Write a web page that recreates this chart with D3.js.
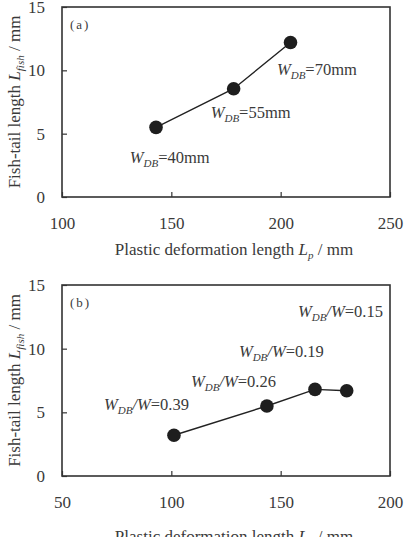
<!DOCTYPE html>
<html>
<head>
<meta charset="utf-8">
<script src="https://cdn.jsdelivr.net/npm/d3@7"></script>
<style>
  body { margin: 0; background: #fff; }
  text { font-family: "Liberation Serif", "Times New Roman", serif; fill: #3a3a3a; }
</style>
</head>
<body>
<script>
// panel (a) data
const lpA = [143, 178.5, 204.5];
const lfA = [5.5, 8.55, 12.2];
const labA = ["40mm", "55mm", "70mm"];
const labPosA = [[131, 2.7], [168, 6.2], [198.3, 9.6]];

// panel (b) data
const lpB = [101.2, 143.7, 165.7, 180.2];
const lfB = [3.2, 5.5, 6.8, 6.7];
const labB = ["0.39", "0.26", "0.19", "0.15"];
const labPosB = [[69.2, 5.2], [109, 7.0], [130.9, 9.35], [157.9, 12.5]];

const ticksA = [100, 150, 200, 250];
const ticksB = [50, 100, 150, 200];
const ticksY = [0, 5, 10, 15];

var W = 405, H = 537;
var svg = d3.select("body").append("svg").attr("width", W).attr("height", H);

function panel(top, bottom, xdom, xticks, xs, ys, labs, labPos, ratio, tag, xlOff) {
  var x = d3.scaleLinear().domain(xdom).range([62, 390]);
  var y = d3.scaleLinear().domain([0, 15]).range([bottom, top]);
  var g = svg.append("g");

  // frame
  g.append("rect").attr("x", 62).attr("y", top)
    .attr("width", 328).attr("height", bottom - top)
    .attr("fill", "none").attr("stroke", "#333").attr("stroke-width", 1.6);

  // axes, ticks pointing inside
  g.append("g").attr("transform", "translate(0," + bottom + ")")
    .call(d3.axisBottom(x).tickValues(xticks).tickSize(-5).tickPadding(20).tickFormat(d3.format("d")))
    .call(a => a.select(".domain").remove())
    .call(a => a.selectAll("line").attr("stroke", "#333").attr("stroke-width", 1.2))
    .call(a => a.selectAll("text").attr("font-size", 17).attr("fill", "#3a3a3a")
      .attr("font-family", "Liberation Serif"));
  g.append("g").attr("transform", "translate(62,0)")
    .call(d3.axisLeft(y).tickValues(ticksY).tickSize(-5).tickPadding(17))
    .call(a => a.select(".domain").remove())
    .call(a => a.selectAll("line").attr("stroke", "#333").attr("stroke-width", 1.2))
    .call(a => a.selectAll("text").attr("font-size", 17).attr("fill", "#3a3a3a")
      .attr("font-family", "Liberation Serif"));

  // line + markers
  var pts = xs.map((v, i) => [v, ys[i]]);
  g.append("path").datum(pts)
    .attr("d", d3.line().x(d => x(d[0])).y(d => y(d[1])))
    .attr("fill", "none").attr("stroke", "#222").attr("stroke-width", 1.4);
  g.selectAll("circle").data(pts).enter().append("circle")
    .attr("cx", d => x(d[0])).attr("cy", d => y(d[1])).attr("r", 6.8)
    .attr("fill", "#1e1e1e");

  // point labels
  labs.forEach(function(s, i) {
    var t = g.append("text").attr("x", x(labPos[i][0])).attr("y", y(labPos[i][1]))
      .attr("font-size", 16.5).attr("fill", "#4a4a4a");
    t.append("tspan").attr("font-style", "italic").text("W");
    t.append("tspan").attr("font-style", "italic").attr("font-size", 11).attr("dy", 4).text("DB");
    if (ratio) {
      t.append("tspan").attr("dy", -4).attr("font-style", "italic").text("/W");
      t.append("tspan").text("=" + s);
    } else {
      t.append("tspan").attr("dy", -4).text("=" + s);
    }
  });

  // panel tag
  g.append("text").attr("x", 70).attr("y", top + 22).attr("font-size", 13)
    .attr("letter-spacing", 2).text("(" + tag + ")");

  // y label
  var yl = g.append("text")
    .attr("transform", "translate(20," + ((top + bottom) / 2) + ") rotate(-90)")
    .attr("text-anchor", "middle").attr("font-size", 17);
  yl.append("tspan").text("Fish-tail length ");
  yl.append("tspan").attr("font-style", "italic").text("L");
  yl.append("tspan").attr("font-style", "italic").attr("font-size", 11).attr("dy", 4).text("fish");
  yl.append("tspan").attr("dy", -4).text(" / mm");

  // x label
  var xl = g.append("text").attr("x", 234).attr("y", bottom + xlOff)
    .attr("text-anchor", "middle").attr("font-size", 17);
  xl.append("tspan").text("Plastic deformation length ");
  xl.append("tspan").attr("font-style", "italic").text("L");
  xl.append("tspan").attr("font-style", "italic").attr("font-size", 11).attr("dy", 4).text("p");
  xl.append("tspan").attr("dy", -4).text(" / mm");
}

panel(7, 197, [100, 250], ticksA, lpA, lfA, labA, labPosA, false, "a", 58);
panel(285, 476, [50, 200], ticksB, lpB, lfB, labB, labPosB, true, "b", 66);
</script>
</body>
</html>
